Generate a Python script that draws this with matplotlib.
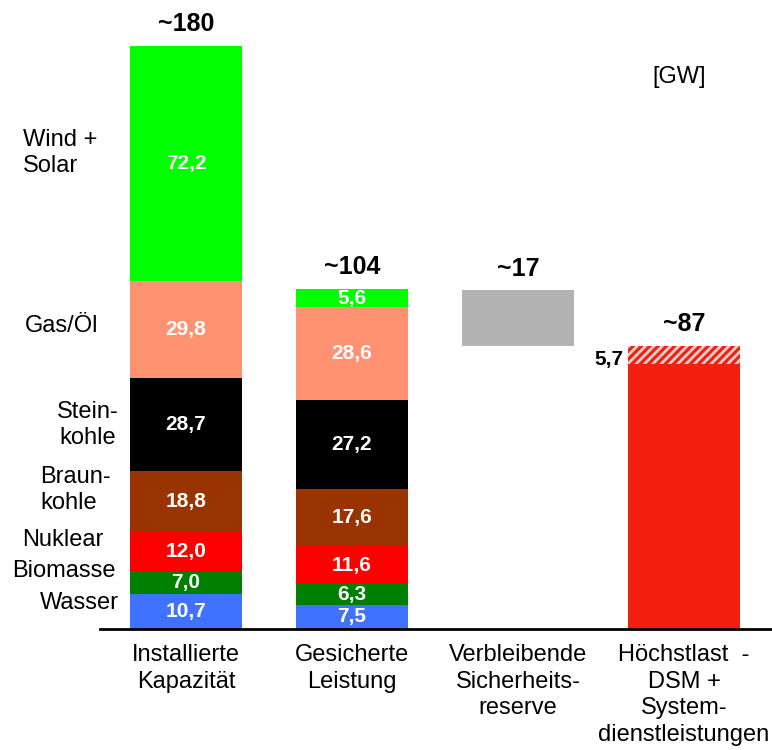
import matplotlib.pyplot as plt
import numpy as np

plt.rcParams['font.family'] = ['Liberation Sans', 'DejaVu Sans']

# data [GW]
sources = ["Wasser", "Biomasse", "Nuklear", "Braunkohle", "Steinkohle", "Gas/Öl", "Wind + Solar"]
installed = [10.7, 7.0, 12.0, 18.8, 28.7, 29.8, 72.2]
secured = [7.5, 6.3, 11.6, 17.6, 27.2, 28.6, 5.6]
peak_load = 81.3
dsm_part = 5.7
reserve = 17
totals = ["~180", "~104", "~17", "~87"]
categories = ["Installierte\nKapazität", "Gesicherte\nLeistung",
              "Verbleibende\nSicherheits-\nreserve",
              "Höchstlast  -\nDSM +\nSystem-\ndienstleistungen"]

# left side labels: text, x, y (data units), alignment
side_labels = [("Wind +\nSolar", -0.982, 146.2, "left"),
               ("Gas/Öl", -0.970, 93.1, "left"),
               ("Stein-\nkohle", -0.590, 62.7, "center"),
               ("Braun-\nkohle", -0.880, 42.7, "left"),
               ("Nuklear", -0.988, 27.3, "left"),
               ("Biomasse", -1.048, 17.8, "left"),
               ("Wasser", -0.880, 8.0, "left")]

colors = ["#3F72FF", "#008000", "#FF0000", "#993300", "#000000", "#FF9270", "#00FF00"]
w = 0.675

fig = plt.figure(figsize=(7.72, 7.5), dpi=100)
ax = fig.add_axes([100 / 772, 121 / 750, 672 / 772, 629 / 750])


def fmt(v):
    return f"{v:.1f}".replace(".", ",")


for xi, vals in enumerate([installed, secured]):
    bottom = 0
    for v, c in zip(vals, colors):
        ax.bar(xi, v, w, bottom=bottom, color=c, linewidth=0)
        ax.text(xi, bottom + v / 2, fmt(v), color="white", fontsize=15,
                fontweight="bold", ha="center", va="center")
        bottom += v

# reserve (floating) and peak load bars
total_load = peak_load + dsm_part
ax.bar(2, reserve, w, bottom=round(total_load), color="#B3B3B3", linewidth=0)
ax.bar(3, peak_load, w, color="#F2200F", linewidth=0)
plt.rcParams['hatch.color'] = '#E0D0CC'
plt.rcParams['hatch.linewidth'] = 2.0
ax.bar(3, dsm_part, w, bottom=peak_load, color="#F2200F", hatch="////", linewidth=0)
ax.annotate(fmt(dsm_part), (3 - w / 2, peak_load + dsm_part / 2), xytext=(-3, -3),
            textcoords="offset points", ha="right", va="center",
            fontsize=15, fontweight="bold")

tops = [sum(installed), sum(secured), round(total_load) + reserve, total_load]
for xi, (t, lab) in enumerate(zip(tops, totals)):
    ax.annotate(lab, (xi, t), xytext=(0, 7), textcoords="offset points",
                ha="center", va="bottom", fontsize=18, fontweight="bold")

for txt, x, y, ha in side_labels:
    ax.text(x, y, txt, ha=ha, va="center", multialignment=ha, fontsize=17,
            linespacing=1.27)

ax.text(2.97, 169.6, "[GW]", ha="center", va="center", fontsize=17)

ax.set_xlim(-0.518, 3.53)
ax.set_ylim(0, 193.2)
ax.set_xticks(range(4))
ax.set_xticklabels(categories, fontsize=17, linespacing=1.27)
ax.tick_params(axis="x", length=0, pad=11)
ax.set_yticks([])
for s in ["top", "left", "right"]:
    ax.spines[s].set_visible(False)
ax.spines["bottom"].set_linewidth(2)

fig.savefig("out.png", dpi=100)
